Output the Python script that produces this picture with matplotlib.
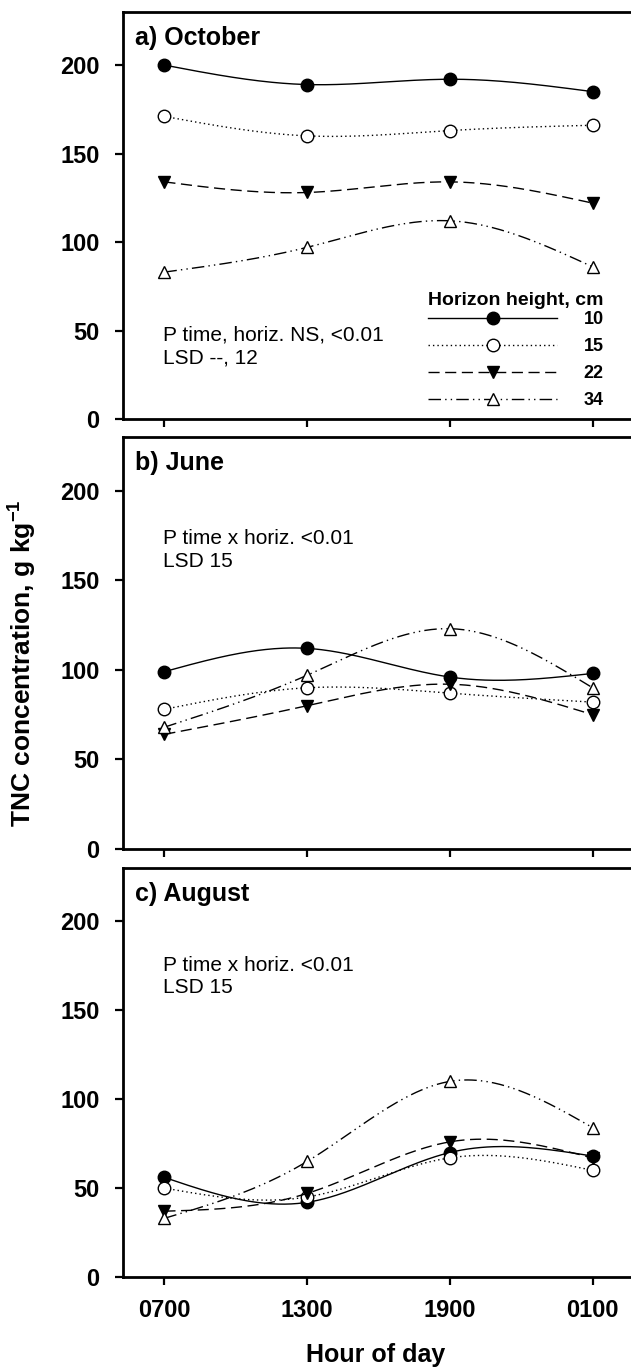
import numpy as np
import matplotlib
matplotlib.use('Agg')
import matplotlib.pyplot as plt
from matplotlib.lines import Line2D

# ---------------- data ----------------
hours = ['0700', '1300', '1900', '0100']
horizon_heights = ['10', '15', '22', '34']
panel_titles = ['a) October', 'b) June', 'c) August']

oct_10 = [200, 189, 192, 185]
oct_15 = [171, 160, 163, 166]
oct_22 = [134, 128, 134, 122]
oct_34 = [83, 97, 112, 86]

jun_10 = [99, 112, 96, 98]
jun_15 = [78, 90, 87, 82]
jun_22 = [64, 80, 92, 75]
jun_34 = [68, 97, 123, 90]

aug_10 = [56, 42, 70, 68]
aug_15 = [50, 45, 67, 60]
aug_22 = [37, 47, 76, 67]
aug_34 = [33, 65, 110, 84]

stats_text = ['P time, horiz. NS, <0.01\nLSD --, 12',
              'P time x horiz. <0.01\nLSD 15',
              'P time x horiz. <0.01\nLSD 15']

panels = [[oct_10, oct_15, oct_22, oct_34],
          [jun_10, jun_15, jun_22, jun_34],
          [aug_10, aug_15, aug_22, aug_34]]

# ---------------- styles ----------------
styles = [dict(ls='-', marker='o', mfc='black'),
          dict(ls=(0, (1, 2.2)), marker='o', mfc='white'),
          dict(ls=(0, (8, 4)), marker='v', mfc='black'),
          dict(ls=(0, (9, 3, 1, 3, 1, 3)), marker='^', mfc='white')]


def smooth(y, n=200):
    """Natural cubic spline through equally spaced points (display only)."""
    y = np.asarray(y, float)
    m = len(y)
    A = np.zeros((m, m))
    b = np.zeros(m)
    A[0, 0] = 1
    A[-1, -1] = 1
    for i in range(1, m - 1):
        A[i, i - 1] = 1
        A[i, i] = 4
        A[i, i + 1] = 1
        b[i] = 6 * (y[i + 1] - 2 * y[i] + y[i - 1])
    M = np.linalg.solve(A, b)
    xs = np.linspace(0, m - 1, n)
    idx = np.clip(np.floor(xs).astype(int), 0, m - 2)
    t = xs - idx
    ys = ((1 - t) * y[idx] + t * y[idx + 1]
          + ((1 - t) ** 3 - (1 - t)) * M[idx] / 6
          + (t ** 3 - t) * M[idx + 1] / 6)
    return xs, ys


plt.rcParams['font.family'] = ['Liberation Sans', 'DejaVu Sans']
plt.rcParams['mathtext.fontset'] = 'custom'
plt.rcParams['mathtext.rm'] = 'Liberation Sans'
plt.rcParams['mathtext.bf'] = 'Liberation Sans:bold'

W, H = 631, 1368
fig = plt.figure(figsize=(W / 100, H / 100), dpi=100)

# axes boxes in pixels: (left, top, right, bottom)
boxes = [(123, 12, 634, 419), (123, 437, 634, 849), (123, 868, 634, 1277)]
stats_y = [0.179, 0.725, 0.735]

x = np.arange(len(hours))
for k, (box, series) in enumerate(zip(boxes, panels)):
    l, t, r, b = box
    ax = fig.add_axes([l / W, 1 - b / H, (r - l) / W, (b - t) / H])
    for s, st in zip(series, styles):
        xs, ys = smooth(s)
        ax.plot(xs, ys, color='black', lw=1.0, ls=st['ls'])
        ax.plot(x, s, ls='none', marker=st['marker'], ms=9,
                mfc=st['mfc'], mec='black', mew=1.0, color='black')
    ax.set_xlim(-0.29, 3.29)
    ax.set_ylim(0, 230)
    ax.set_yticks([0, 50, 100, 150, 200])
    ax.set_xticks(x)
    if k == 2:
        ax.set_xticklabels(hours, fontsize=17, fontweight='bold')
    else:
        ax.set_xticklabels([])
    for lab in ax.get_yticklabels():
        lab.set_fontsize(17)
        lab.set_fontweight('bold')
    for sp in ax.spines.values():
        sp.set_linewidth(2.0)
    ax.tick_params(direction='out', length=6, width=1.6)
    ax.tick_params(axis='y', pad=11)
    ax.tick_params(axis='x', pad=10)
    ax.text(0.0235, 0.92, panel_titles[k], transform=ax.transAxes,
            fontsize=18, fontweight='bold', va='baseline', ha='left')
    ax.text(0.078, stats_y[k], stats_text[k], transform=ax.transAxes,
            fontsize=15, va='center', ha='left', linespacing=1.25)
    if k == 0:
        handles = [Line2D([], [], color='black', lw=1.0, ls=st['ls'],
                          marker=st['marker'], ms=9, mfc=st['mfc'],
                          mec='black', mew=1.0)
                   for st in styles]
        leg = ax.legend(handles, horizon_heights, title='Horizon height, cm',
                        loc='lower right', bbox_to_anchor=(0.941, 0.024),
                        borderaxespad=0, borderpad=0,
                        frameon=False, handlelength=7.1, handletextpad=1.5,
                        labelspacing=0.55, prop={'size': 13, 'weight': 'bold'},
                        title_fontproperties={'weight': 'bold', 'size': 14})
        leg._legend_box.align = 'right'
        leg._legend_box.sep = 2

fig.text(22 / W, 1 - 663 / H, 'TNC concentration, g kg$^{\\mathbf{-1}}$',
         rotation=90, fontsize=19, fontweight='bold', ha='center', va='center')
fig.text(376 / W, 1 - 1355 / H, 'Hour of day', fontsize=18,
         fontweight='bold', ha='center', va='center')

fig.savefig('out.png', dpi=100)
